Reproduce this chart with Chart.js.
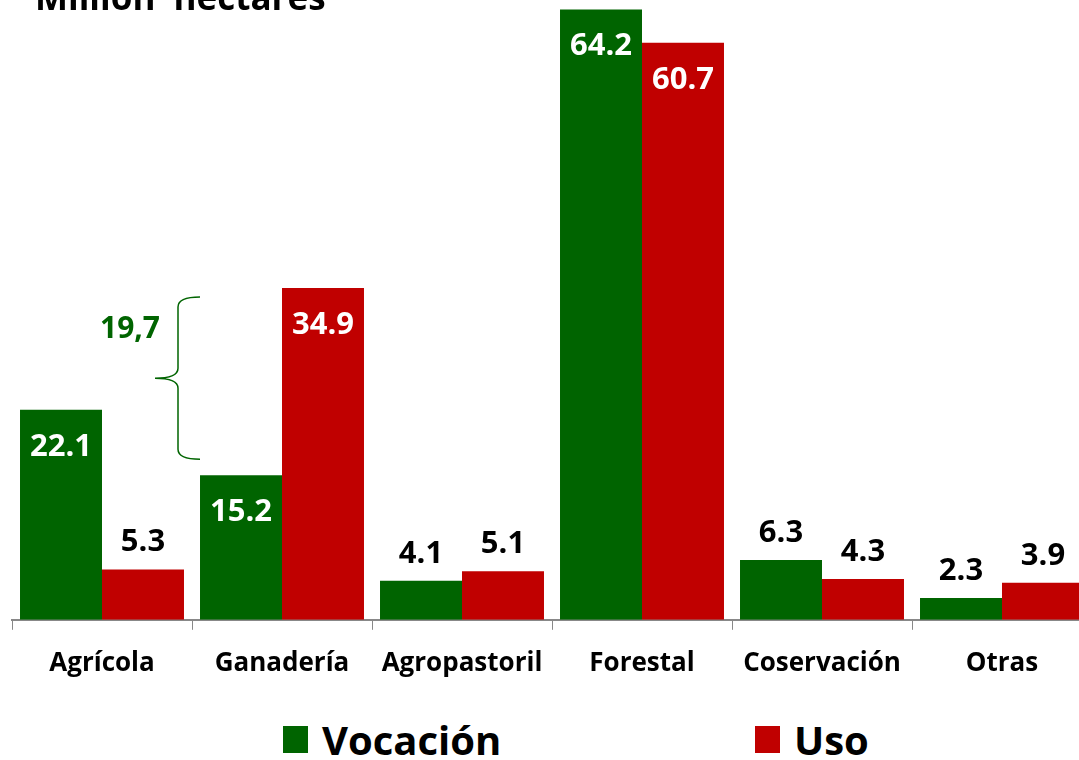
<!DOCTYPE html>
<html>
<head>
<meta charset="utf-8">
<script src="https://cdn.jsdelivr.net/npm/chart.js@4.4.1/dist/chart.umd.min.js"></script>
<style>
  html, body { margin: 0; padding: 0; background: #fff; overflow: hidden; width: 1079px; height: 760px; }
  #wrap { position: relative; width: 1100px; height: 700px; }
  .legend { position: absolute; top: 712px; font: bold 40px "Open Sans", Lato, sans-serif; color: #000; display: flex; align-items: center; }
  .legend .box { width: 25px; height: 27px; margin-right: 14px; }
</style>
</head>
<body>
<div id="wrap"><canvas id="landChart" width="1100" height="700"></canvas></div>
<div class="legend" style="left:283px"><span class="box" style="background:#006400"></span>Vocación</div>
<div class="legend" style="left:755px"><span class="box" style="background:#c00000"></span>Uso</div>
<script>
// Uso del suelo: vocación vs uso actual (millones de hectáreas)
const categories = ['Agrícola', 'Ganadería', 'Agropastoril', 'Forestal', 'Coservación', 'Otras'];
const vocacion = [22.1, 15.2, 4.1, 64.2, 6.3, 2.3];
const uso = [5.3, 34.9, 5.1, 60.7, 4.3, 3.9];
const unitTitle = 'Million  hectares';

const FONT = '"Open Sans", Lato, sans-serif';
const GREEN = '#006400';
const RED = '#c00000';

// etiquetas de valor: dentro (blanco) si la barra es alta, encima (negro) si no
const valueLabels = {
  id: 'valueLabels',
  afterDatasetsDraw(chart) {
    const ctx = chart.ctx;
    ctx.save();
    ctx.font = 'bold 31px ' + FONT;
    ctx.textAlign = 'center';
    ctx.textBaseline = 'middle';
    chart.data.datasets.forEach((ds, i) => {
      chart.getDatasetMeta(i).data.forEach((bar, j) => {
        const v = ds.data[j];
        if (v > 10) {
          ctx.fillStyle = '#fff';
          ctx.fillText(v.toFixed(1), bar.x, bar.y + 37);
        } else {
          ctx.fillStyle = '#000';
          ctx.fillText(v.toFixed(1), bar.x, bar.y - 27);
        }
      });
    });
    ctx.restore();
  }
};

// llave con la diferencia Ganadería (uso - vocación)
const gapBrace = {
  id: 'gapBrace',
  afterDraw(chart) {
    const ctx = chart.ctx;
    const y = chart.scales.y;
    const gx = chart.scales.x.getPixelForValue(1);
    const diff = uso[1] - vocacion[1];
    const top = y.getPixelForValue(uso[1]) + 9;
    const bot = y.getPixelForValue(vocacion[1]) - 16;
    const mid = (top + bot) / 2;
    const xr = gx - 82, xl = xr - 22, xp = xl - 23;
    ctx.save();
    ctx.strokeStyle = GREEN;
    ctx.lineWidth = 1.5;
    ctx.beginPath();
    ctx.moveTo(xr, top);
    ctx.quadraticCurveTo(xl, top, xl, top + 10);
    ctx.lineTo(xl, mid - 10);
    ctx.quadraticCurveTo(xl, mid, xp, mid);
    ctx.quadraticCurveTo(xl, mid, xl, mid + 10);
    ctx.lineTo(xl, bot - 10);
    ctx.quadraticCurveTo(xl, bot, xr, bot);
    ctx.stroke();
    ctx.fillStyle = GREEN;
    ctx.font = 'bold 30px ' + FONT;
    ctx.textAlign = 'center';
    ctx.textBaseline = 'middle';
    ctx.fillText(diff.toFixed(1).replace('.', ','), xp - 25, top + 32);
    // título de unidades
    ctx.fillStyle = '#000';
    ctx.font = 'bold 35px ' + FONT;
    ctx.textAlign = 'left';
    ctx.textBaseline = 'alphabetic';
    ctx.fillText(unitTitle, 35, 10);
    ctx.restore();
  }
};

new Chart(document.getElementById('landChart'), {
  type: 'bar',
  data: {
    labels: categories,
    datasets: [
      { label: 'Vocación', data: vocacion, backgroundColor: GREEN },
      { label: 'Uso', data: uso, backgroundColor: RED }
    ]
  },
  options: {
    responsive: false,
    animation: false,
    layout: { padding: { left: 12, right: 8, top: 0, bottom: 3 } },
    datasets: { bar: { categoryPercentage: 0.911, barPercentage: 1 } },
    plugins: { legend: { display: false }, tooltip: { enabled: false } },
    scales: {
      x: {
        grid: { offset: true, drawOnChartArea: false, color: '#888', tickLength: 10 },
        border: { color: '#888', width: 2 },
        ticks: { color: '#000', font: { family: FONT, size: 26, weight: 'bold' }, padding: 18 }
      },
      y: { display: false, min: 0, max: 65.2 }
    }
  },
  plugins: [valueLabels, gapBrace]
});
</script>
</body>
</html>
